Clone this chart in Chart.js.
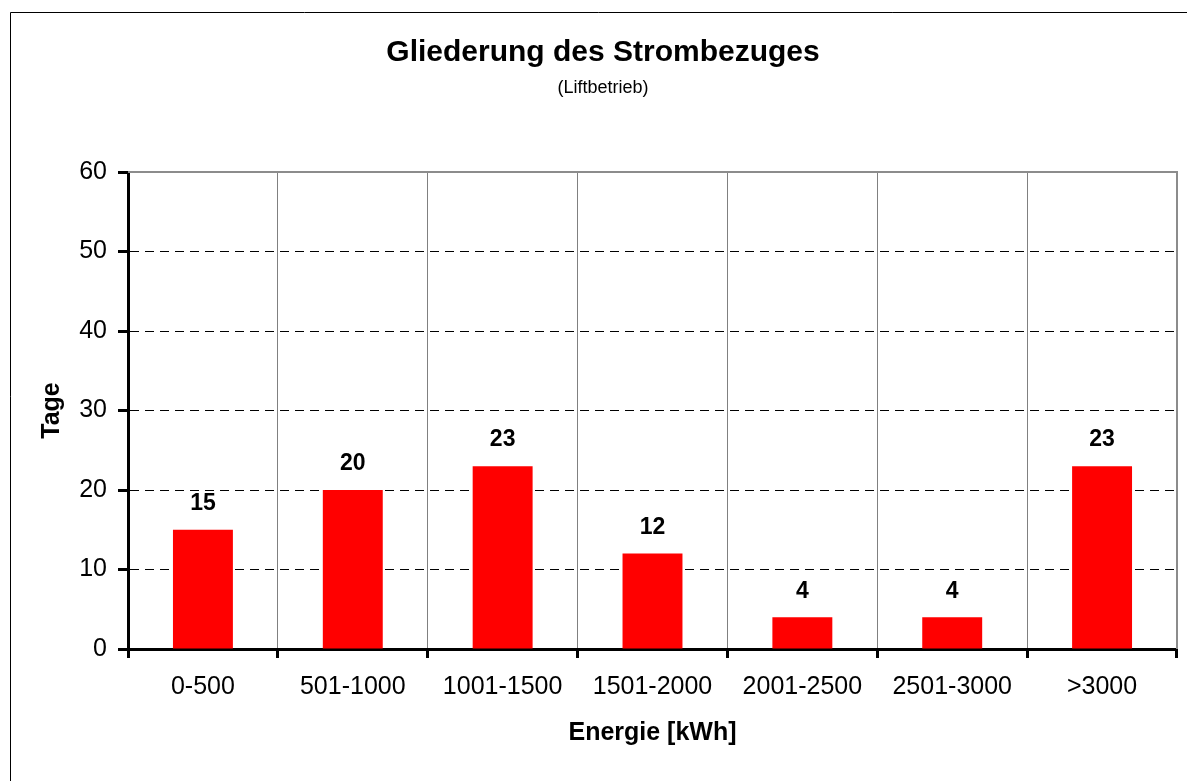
<!DOCTYPE html>
<html>
<head>
<meta charset="utf-8">
<script src="https://cdn.jsdelivr.net/npm/chart.js@4/dist/chart.umd.min.js"></script>
<style>
  body { margin: 0; background: #fff; }
  #wrap { width: 1187px; height: 781px; }
</style>
</head>
<body>
<div id="wrap"><canvas id="chart" width="1187" height="781"></canvas></div>
<script>
// Energy bands and number of days in each
const categories = ["0-500", "501-1000", "1001-1500", "1501-2000", "2001-2500", "2501-3000", ">3000"];
const days = [15, 20, 23, 12, 4, 4, 23];
const yTicks = [0, 10, 20, 30, 40, 50, 60];

Chart.defaults.font.family = "'Liberation Sans', Arial, sans-serif";
Chart.defaults.color = "#000";

// outer frame + gray plot border (top and right)
const framePlugin = {
  id: "frame",
  beforeDraw(chart) {
    const ctx = chart.ctx;
    ctx.save();
    ctx.fillStyle = "#fff";
    ctx.fillRect(0, 0, chart.width, chart.height);
    ctx.strokeStyle = "#000";
    ctx.lineWidth = 1;
    ctx.beginPath();
    ctx.moveTo(10.5, chart.height);
    ctx.lineTo(10.5, 12.5);
    ctx.lineTo(chart.width, 12.5);
    ctx.stroke();
    ctx.restore();
  },
  beforeDatasetsDraw(chart) {
    const { ctx, chartArea } = chart;
    ctx.save();
    ctx.strokeStyle = "#8c8c8c";
    ctx.lineWidth = 2;
    ctx.beginPath();
    ctx.moveTo(chartArea.left, chartArea.top);
    ctx.lineTo(chartArea.right, chartArea.top);
    ctx.lineTo(chartArea.right, chartArea.bottom);
    ctx.stroke();
    ctx.restore();
  },
};

// value labels above the bars
const valueLabels = {
  id: "valueLabels",
  afterDatasetsDraw(chart) {
    const ctx = chart.ctx;
    const meta = chart.getDatasetMeta(0);
    ctx.save();
    ctx.font = "bold 23px 'Liberation Sans', Arial, sans-serif";
    ctx.fillStyle = "#000";
    ctx.textAlign = "center";
    ctx.textBaseline = "middle";
    meta.data.forEach((bar, i) => {
      ctx.fillText(String(days[i]), bar.x, bar.y - 26);
    });
    ctx.restore();
  },
};

const ctx = document.getElementById("chart").getContext("2d");
new Chart(ctx, {
  type: "bar",
  data: {
    labels: categories,
    datasets: [
      {
        data: days,
        backgroundColor: "#ff0000",
        borderWidth: 0,
        categoryPercentage: 1,
        barPercentage: 0.4,
      },
    ],
  },
  options: {
    responsive: false,
    animation: false,
    layout: { padding: { left: 29, right: 10, top: 0, bottom: 0 } },
    plugins: {
      legend: { display: false },
      tooltip: { enabled: false },
      title: {
        display: true,
        text: "Gliederung des Strombezuges",
        font: { size: 30, weight: "bold" },
        color: "#000",
        padding: { top: 35, bottom: 0 },
      },
      subtitle: {
        display: true,
        text: "(Liftbetrieb)",
        font: { size: 18 },
        color: "#000",
        padding: { top: 6.2, bottom: 73.2 },
      },
    },
    scales: {
      x: {
        afterFit: (scale) => {
          scale.height = 132;
        },
        grid: {
          offset: true,
          color: "#808080",
          lineWidth: 1,
          tickLength: 9,
          tickColor: "#000",
          tickWidth: 3,
        },
        border: { display: true, color: "#000", width: 3 },
        ticks: { font: { size: 25 }, color: "#000", padding: 14 },
        title: {
          display: true,
          text: "Energie [kWh]",
          font: { size: 25, weight: "bold" },
          color: "#000",
          padding: { top: 0, bottom: 33 },
        },
      },
      y: {
        min: 0,
        max: 60,
        afterFit: (scale) => {
          scale.width = 99;
        },
        afterBuildTicks: (scale) => {
          scale.ticks = yTicks.map((v) => ({ value: v }));
        },
        grid: {
          color: (c) => (c.tick && (c.tick.value === 0 || c.tick.value === 60) ? "rgba(0,0,0,0)" : "#000"),
          lineWidth: 1,
          tickLength: 10,
          tickColor: "#000",
          tickWidth: 3,
        },
        border: { display: true, color: "#000", width: 3, dash: [9, 6] },
        ticks: { font: { size: 25 }, color: "#000", padding: 11 },
        title: {
          display: true,
          text: "Tage",
          font: { size: 25, weight: "bold" },
          color: "#000",
          padding: { top: 8, bottom: 0 },
        },
      },
    },
  },
  plugins: [framePlugin, valueLabels],
});
</script>
</body>
</html>
